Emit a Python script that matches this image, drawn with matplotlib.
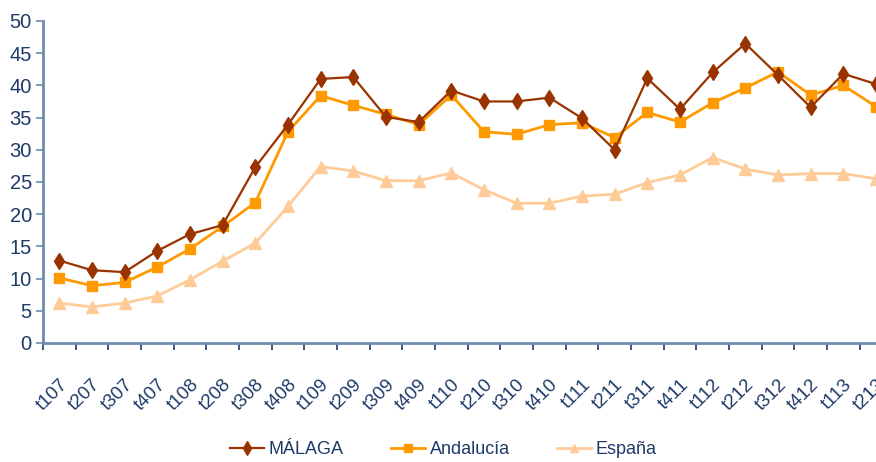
import numpy as np
import matplotlib
matplotlib.use('Agg')
import matplotlib.pyplot as plt
from matplotlib.transforms import ScaledTranslation

plt.rcParams['font.family'] = ['Liberation Sans Narrow', 'Liberation Sans', 'DejaVu Sans']

# trimestres
periodos = ['t107', 't207', 't307', 't407', 't108', 't208', 't308', 't408',
            't109', 't209', 't309', 't409', 't110', 't210', 't310', 't410',
            't111', 't211', 't311', 't411', 't112', 't212', 't312', 't412',
            't113', 't213']

malaga = [12.8, 11.3, 11.0, 14.3, 16.9, 18.3, 27.3, 33.9,
          41.0, 41.3, 35.1, 34.3, 39.2, 37.5, 37.5, 38.1,
          34.9, 30.0, 41.1, 36.3, 42.0, 46.5, 41.6, 36.6,
          41.8, 40.2]
andalucia = [10.1, 8.9, 9.4, 11.8, 14.6, 18.1, 21.8, 32.8,
             38.4, 36.9, 35.5, 33.9, 38.5, 32.8, 32.4, 33.9,
             34.2, 31.9, 35.8, 34.3, 37.3, 39.6, 42.1, 38.5,
             40.0, 36.7]
espana = [6.2, 5.6, 6.2, 7.3, 9.8, 12.7, 15.5, 21.2,
          27.4, 26.7, 25.2, 25.2, 26.4, 23.8, 21.7, 21.7,
          22.8, 23.1, 24.9, 26.1, 28.8, 27.0, 26.1, 26.3,
          26.3, 25.5]

texto = '#1F3A68'
eje = '#6F8CB0'

fig = plt.figure(figsize=(8.76, 4.62), dpi=100)
ax = fig.add_axes([0.049, 0.2576, 0.951, 0.697])

x = np.arange(len(periodos))
ax.plot(x, malaga, color='#993300', lw=1.6, marker='d', ms=8.5,
        label='MÁLAGA', zorder=4)
ax.plot(x, andalucia, color='#FF9900', lw=2, marker='s', ms=7,
        label='Andalucía', zorder=3)
ax.plot(x, espana, color='#FFCC99', lw=2, marker='^', ms=8,
        label='España', zorder=2)

ax.set_xlim(-0.5, 25)
ax.set_ylim(0, 50)
ax.set_yticks(range(0, 51, 5))

# marcas del eje x entre categorias
ax.set_xticks(np.arange(-0.5, 25, 1))
ax.set_xticklabels([])
ax.set_xticks(x, minor=True)
ax.set_xticklabels(periodos, minor=True, rotation=45, ha='right',
                   fontsize=13.5, color=texto)
ax.tick_params(axis='x', which='minor', length=0, pad=24)
ax.tick_params(axis='x', which='major', length=5, width=1.2,
               color=texto, direction='out')
ax.tick_params(axis='y', length=5, width=1.2, color=eje,
               labelsize=14.5, labelcolor=texto, pad=3)

desplazamiento = ScaledTranslation(0.12, 0, fig.dpi_scale_trans)
for lab in ax.get_xticklabels(minor=True):
    lab.set_transform(lab.get_transform() + desplazamiento)

for lado in ['top', 'right']:
    ax.spines[lado].set_visible(False)
for lado in ['left', 'bottom']:
    ax.spines[lado].set_color(eje)
    ax.spines[lado].set_linewidth(2)

leg = fig.legend(loc='center', bbox_to_anchor=(0.506, 0.026), ncol=3,
                 frameon=False, fontsize=13, columnspacing=2.6,
                 handlelength=1.9, handletextpad=0.25, markerscale=0.8)
for t in leg.get_texts():
    t.set_color(texto)

fig.savefig('out.png', dpi=100)
